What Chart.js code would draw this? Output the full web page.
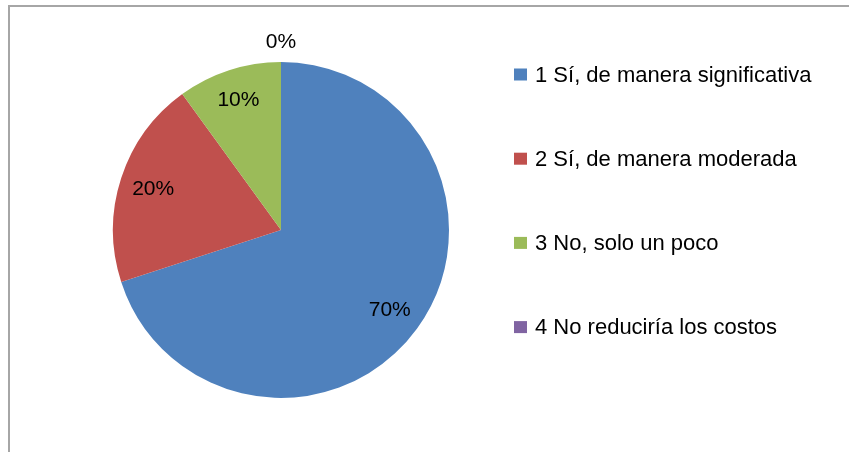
<!DOCTYPE html>
<html>
<head>
<meta charset="utf-8">
<script src="https://cdn.jsdelivr.net/npm/chart.js@4.4.0/dist/chart.umd.min.js"></script>
<style>
  html, body { margin: 0; padding: 0; background: #fff; }
  #wrap { position: relative; width: 849px; height: 452px; overflow: hidden; }
  #frame {
    position: absolute; left: 8px; top: 5px; width: 900px; height: 500px;
    border-left: 2px solid #a6a6a6; border-top: 2px solid #a6a6a6;
  }
  canvas { position: absolute; left: 0; top: 0; }
</style>
</head>
<body>
<div id="wrap">
  <div id="frame"></div>
  <canvas id="pie" width="849" height="452"></canvas>
</div>
<script>
// data
const labels = [
  '1 Sí, de manera significativa',
  '2 Sí, de manera moderada',
  '3 No, solo un poco',
  '4 No reduciría los costos'
];
const values = [70, 20, 10, 0];
const colors = ['#4F81BD', '#C0504D', '#9BBB59', '#8064A2'];

const FONT = '"Liberation Sans", Arial, sans-serif';

// percent labels on/around the slices
const pctLabels = {
  id: 'pctLabels',
  afterDatasetsDraw(chart) {
    const ctx = chart.ctx;
    const meta = chart.getDatasetMeta(0);
    const total = values.reduce((a, b) => a + b, 0);
    ctx.save();
    ctx.fillStyle = '#000';
    ctx.font = '21px ' + FONT;
    ctx.textAlign = 'center';
    ctx.textBaseline = 'middle';
    meta.data.forEach((arc, i) => {
      const p = arc.getProps(['x', 'y', 'startAngle', 'endAngle', 'outerRadius']);
      const mid = (p.startAngle + p.endAngle) / 2;
      const pct = Math.round(values[i] / total * 100);
      let r = p.outerRadius * 0.8;
      if (values[i] === 0) r = p.outerRadius + 21;
      else if (pct <= 10) r = p.outerRadius * 0.82;
      ctx.fillText(pct + '%', p.x + Math.cos(mid) * r, p.y + Math.sin(mid) * r + 1);
    });
    ctx.restore();
  }
};

// legend on the right, like the original
const sideLegend = {
  id: 'sideLegend',
  afterDraw(chart) {
    const ctx = chart.ctx;
    const x0 = 514, y0 = 74.5, step = 84.2;
    ctx.save();
    ctx.font = '22px ' + FONT;
    ctx.textBaseline = 'middle';
    ctx.textAlign = 'left';
    chart.data.labels.forEach((lab, i) => {
      const y = y0 + i * step;
      ctx.fillStyle = chart.data.datasets[0].backgroundColor[i];
      ctx.fillRect(x0, y - 6, 13, 12);
      ctx.fillStyle = '#000';
      ctx.fillText(lab, x0 + 21, y + 1);
    });
    ctx.restore();
  }
};

new Chart(document.getElementById('pie'), {
  type: 'pie',
  data: {
    labels: labels,
    datasets: [{
      data: values,
      backgroundColor: colors,
      borderWidth: 0
    }]
  },
  options: {
    responsive: false,
    animation: false,
    layout: { padding: { left: 113, right: 400, top: 62, bottom: 54 } },
    plugins: {
      legend: { display: false },
      tooltip: { enabled: false }
    }
  },
  plugins: [pctLabels, sideLegend]
});
</script>
</body>
</html>
